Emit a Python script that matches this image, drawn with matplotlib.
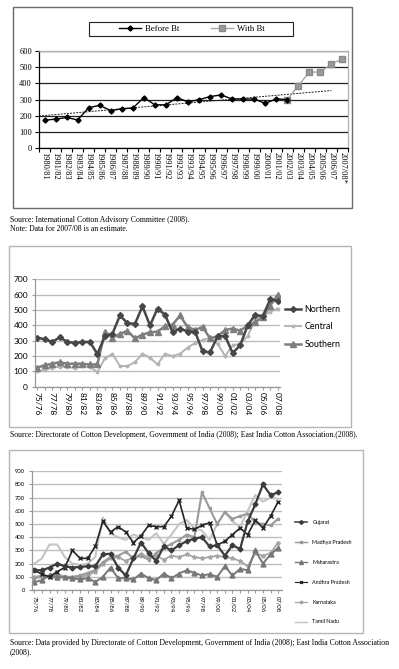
import matplotlib
matplotlib.use("Agg")
import matplotlib.pyplot as plt
import numpy as np
from matplotlib.patches import Rectangle
from matplotlib.lines import Line2D

# ---------------- DATA ----------------
# Chart 1
years1 = ["1980/81", "1981/82", "1982/83", "1983/84", "1984/85", "1985/86", "1986/87",
          "1987/88", "1988/89", "1989/90", "1990/91", "1991/92", "1992/93", "1993/94",
          "1994/95", "1995/96", "1996/97", "1997/98", "1998/99", "1999/00", "2000/01",
          "2001/02", "2002/03", "2003/04", "2004/05", "2005/06", "2006/07", "2007/08*"]
before_bt = [173, 180, 190, 175, 250, 265, 232, 244, 248, 313, 268, 268, 313, 286, 300,
             319, 329, 304, 304, 304, 277, 305, 300]
with_bt = [300, 387, 470, 470, 520, 551]          # 2002/03 .. 2007/08*

# Chart 2 and 3 categories
years2 = ["75/76", "76/77", "77/78", "78/79", "79/80", "80/81", "81/82", "82/83", "83/84",
          "84/85", "85/86", "86/87", "87/88", "88/89", "89/90", "90/91", "91/92", "92/93",
          "93/94", "94/95", "95/96", "96/97", "97/98", "98/99", "99/00", "00/01", "01/02",
          "02/03", "03/04", "04/05", "05/06", "06/07", "07/08"]
northern = [320, 310, 292, 323, 292, 286, 292, 292, 214, 330, 345, 465, 415, 410, 525, 400,
            510, 470, 355, 380, 360, 360, 230, 225, 330, 330, 220, 270, 400, 470, 460, 570, 560]
central = [100, 110, 125, 130, 130, 120, 135, 130, 95, 185, 215, 135, 135, 160, 215, 190,
           145, 215, 200, 215, 255, 285, 305, 320, 280, 200, 270, 280, 330, 440, 460, 490, 510]
southern = [125, 140, 150, 160, 150, 150, 150, 145, 145, 360, 320, 345, 365, 315, 340, 355,
            360, 395, 405, 465, 390, 370, 390, 315, 330, 370, 380, 365, 400, 420, 455, 530, 600]

# Chart 3
gujarat = [150, 150, 170, 200, 180, 170, 175, 180, 180, 270, 275, 170, 110, 240, 360, 280,
           220, 330, 300, 340, 370, 390, 400, 330, 340, 260, 340, 310, 520, 650, 800, 720, 740]
madhya = [90, 100, 110, 120, 100, 100, 110, 130, 150, 210, 250, 260, 290, 240, 260, 230,
          280, 320, 350, 380, 420, 400, 740, 620, 500, 590, 540, 560, 580, 510, 500, 490, 540]
maharastra = [60, 75, 110, 100, 95, 90, 80, 90, 60, 100, 170, 90, 90, 80, 125, 90, 75, 125,
              90, 125, 150, 130, 110, 120, 100, 180, 110, 160, 150, 300, 200, 270, 320]
andhra = [150, 120, 100, 140, 170, 300, 240, 240, 330, 520, 440, 480, 440, 360, 410, 490,
          480, 480, 560, 680, 470, 460, 490, 510, 340, 370, 420, 470, 420, 530, 470, 560, 670]
karnataka = [100, 110, 100, 90, 100, 90, 100, 110, 140, 200, 240, 250, 220, 250, 270, 250,
             260, 230, 260, 250, 270, 250, 240, 250, 260, 250, 240, 220, 180, 280, 260, 280, 360]
tamil = [200, 240, 345, 345, 250, 200, 190, 200, 250, 550, 430, 400, 380, 420, 400, 380,
         430, 350, 420, 500, 530, 470, 450, 380, 500, 590, 520, 480, 600, 720, 670, 700, 690]

# ---------------- FIGURE ----------------
W, H = 399, 669
fig = plt.figure(figsize=(W / 100, H / 100), dpi=100)
fig.patch.set_facecolor("white")

SERIF = ["Liberation Serif", "DejaVu Serif"]
SANS = ["Lato", "DejaVu Sans"]


def px_axes(x0, y0, x1, y1):
    return fig.add_axes([x0 / W, 1 - y1 / H, (x1 - x0) / W, (y1 - y0) / H])


def box(x0, y0, x1, y1, color, lw=1.0):
    fig.patches.append(Rectangle((x0 / W, 1 - y1 / H), (x1 - x0) / W, (y1 - y0) / H,
                                 transform=fig.transFigure, fill=False,
                                 edgecolor=color, linewidth=lw, zorder=0))


def ftext(x, y, s, size, family, **kw):
    fig.text(x / W, 1 - y / H, s, fontsize=size, family=family, va="center", ha="left", **kw)


# ================= CHART 1 =================
box(13, 7, 352, 208, "#6a6a6a", 1.0)
ax1 = px_axes(39, 51, 348, 148.3)
n1 = len(years1)
xb = np.arange(len(before_bt))
xw = np.arange(len(before_bt) - 1, len(before_bt) - 1 + len(with_bt))
ax1.set_xlim(-0.5, n1 - 0.5)
ax1.set_ylim(0, 600)
ax1.set_yticks(range(0, 601, 100))
ax1.grid(axis="y", color="#222222", linewidth=0.9)
ax1.set_axisbelow(True)
coef = np.polyfit(xb, before_bt, 1)
xt = np.array([-0.5, 26])
ax1.plot(xt, np.polyval(coef, xt), color="#222222", linewidth=0.7, linestyle=(0, (2, 1.2)))
ax1.plot(xw, with_bt, color="#a8a8a8", linewidth=1.0, marker="s", markersize=4,
         markerfacecolor="#999999", markeredgecolor="#8a8a8a", label="With Bt")
ax1.plot(xb, before_bt, color="black", linewidth=1.0, marker="D", markersize=2.6,
         label="Before Bt")
ax1.set_xticks(np.arange(-0.5, n1, 1.0))
ax1.set_xticklabels([])
ax1.set_xticks(np.arange(n1), minor=True)
ax1.set_xticklabels(years1, minor=True, rotation=270, fontsize=6.0, family=SERIF)
ax1.tick_params(axis="x", which="major", length=3, width=0.8, color="black", direction="out")
ax1.tick_params(axis="x", which="minor", length=0, pad=3)
ax1.tick_params(axis="y", length=3, width=0.8, pad=2, labelsize=6.0)
for lab in ax1.get_yticklabels():
    lab.set_family(SERIF)
for s in ["left", "bottom"]:
    ax1.spines[s].set_color("black")
    ax1.spines[s].set_linewidth(0.9)
for s in ["top", "right"]:
    ax1.spines[s].set_color("#b0b0b0")
    ax1.spines[s].set_linewidth(0.9)

box(89, 22, 293, 36, "#222222", 0.8)
h1 = [Line2D([], [], color="black", lw=1.0, marker="D", markersize=2.6),
      Line2D([], [], color="#a8a8a8", lw=1.0, marker="s", markersize=4,
             markerfacecolor="#999999", markeredgecolor="#8a8a8a")]
fig.legend(h1, ["Before Bt", "With Bt"], loc="center", bbox_to_anchor=(192 / W, 1 - 29 / H),
           ncol=2, frameon=False, prop={"family": SERIF, "size": 6.3},
           handlelength=2.5, handletextpad=0.5, columnspacing=3.6, borderpad=0)

ftext(10, 220, "Source: International Cotton Advisory Committee (2008).", 5.6, SERIF)
ftext(10, 229, "Note: Data for 2007/08 is an estimate.", 5.6, SERIF)

# ================= CHART 2 =================
box(9, 246, 351, 427, "#b5b5b5", 1.0)
ax2 = px_axes(35, 279.5, 280, 386.7)
n2 = len(years2)
x2 = np.arange(n2)
ax2.set_xlim(-0.3, n2 - 1 + 0.3)
ax2.set_ylim(0, 700)
ax2.set_yticks(range(0, 701, 100))
ax2.grid(axis="y", color="#bdbdbd", linewidth=1.0)
ax2.set_axisbelow(True)
ax2.plot(x2, central, color="#b4b4b4", linewidth=1.4, marker="o", markersize=1.8, label="Central")
ax2.plot(x2, southern, color="#7e7e7e", linewidth=1.8, marker="^", markersize=4, label="Southern")
ax2.plot(x2, northern, color="#474747", linewidth=1.8, marker="D", markersize=3, label="Northern")
ax2.set_xticks(x2)
ax2.set_xticklabels([y if i % 2 == 0 else "" for i, y in enumerate(years2)], rotation=270,
                    fontsize=6, family=SANS)
ax2.tick_params(axis="x", length=2, width=0.8, color="#999999", pad=2)
ax2.tick_params(axis="y", length=2, width=0.8, color="#999999", pad=3, labelsize=6)
for lab in ax2.get_yticklabels():
    lab.set_family(SANS)
for s in ["top", "right"]:
    ax2.spines[s].set_visible(False)
for s in ["left", "bottom"]:
    ax2.spines[s].set_color("#9a9a9a")
    ax2.spines[s].set_linewidth(0.9)
h2 = [Line2D([], [], color="#474747", lw=1.8, marker="D", markersize=3),
      Line2D([], [], color="#b4b4b4", lw=1.4, marker="o", markersize=1.8),
      Line2D([], [], color="#7e7e7e", lw=1.8, marker="^", markersize=4)]
fig.legend(h2, ["Northern", "Central", "Southern"], loc="upper left",
           bbox_to_anchor=(285 / W, 1 - 305 / H), frameon=False,
           prop={"family": SANS, "size": 6.4}, handlelength=1.8, handletextpad=0.4,
           labelspacing=0.95, borderpad=0, borderaxespad=0)
ftext(10, 435, "Source: Directorate of Cotton Development, Government of India (2008); "
               "East India Cotton Association.(2008).", 5.6, SERIF)

# ================= CHART 3 =================
box(9, 450, 363, 633, "#b5b5b5", 1.0)
ax3 = px_axes(32, 471.3, 282, 590)
ax3.set_xlim(-0.3, n2 - 1 + 0.5)
ax3.set_ylim(0, 900)
ax3.set_yticks(range(0, 901, 100))
ax3.grid(axis="y", color="#bdbdbd", linewidth=1.0)
ax3.set_axisbelow(True)
series3 = [
    ("Tamil Nadu", tamil, dict(color="#c4c4c4", lw=1.5, marker="", ms=0)),
    ("Karnataka", karnataka, dict(color="#a5a5a5", lw=1.3, marker="*", ms=3)),
    ("Madhya Pradesh", madhya, dict(color="#9a9a9a", lw=1.5, marker="s", ms=2)),
    ("Maharastra", maharastra, dict(color="#777777", lw=1.4, marker="^", ms=3.5)),
    ("Andhra Pradesh", andhra, dict(color="#262626", lw=1.2, marker="x", ms=2.5)),
    ("Gujarat", gujarat, dict(color="#3c3c3c", lw=1.6, marker="D", ms=2.5)),
]
for name, vals, st in series3:
    ax3.plot(x2, vals, color=st["color"], linewidth=st["lw"], marker=st["marker"],
             markersize=st["ms"], label=name)
ax3.set_xticks(x2)
ax3.set_xticklabels([y if i % 2 == 0 else "" for i, y in enumerate(years2)], rotation=270,
                    fontsize=4.2, family=SANS)
ax3.tick_params(axis="x", length=2, width=0.8, color="#999999", pad=2)
ax3.tick_params(axis="y", length=2, width=0.8, color="#999999", pad=3, labelsize=4.2)
for lab in ax3.get_yticklabels():
    lab.set_family(SANS)
for s in ["top", "right"]:
    ax3.spines[s].set_visible(False)
for s in ["left", "bottom"]:
    ax3.spines[s].set_color("#9a9a9a")
    ax3.spines[s].set_linewidth(0.9)
order3 = ["Gujarat", "Madhya Pradesh", "Maharastra", "Andhra Pradesh", "Karnataka", "Tamil Nadu"]
sty = {n: st for n, _, st in series3}
h3 = [Line2D([], [], color=sty[n]["color"], lw=sty[n]["lw"] * 0.7, marker=sty[n]["marker"],
             markersize=sty[n]["ms"] * 0.8) for n in order3]
fig.legend(h3, order3, loc="upper left", bbox_to_anchor=(295 / W, 1 - 520 / H), frameon=False,
           prop={"family": SANS, "size": 3.9}, handlelength=2.3, handletextpad=0.9,
           labelspacing=2.75, borderpad=0, borderaxespad=0)
ftext(10, 642.7, "Source: Data provided by Directorate of Cotton Development, Government of India "
                 "(2008); East India Cotton Association", 5.6, SERIF)
ftext(10, 652.3, "(2008).", 5.6, SERIF)

fig.savefig("out.png", dpi=100)
